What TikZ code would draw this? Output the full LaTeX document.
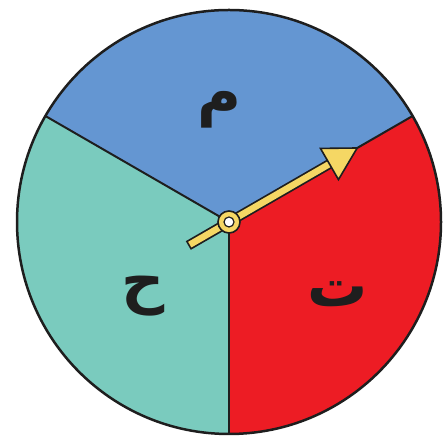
\documentclass[tikz,border=0pt]{standalone}
\usepackage{fontspec}
\usetikzlibrary{calc}
\TeXXeTstate=1
\newfontfamily\arabicfont[Script=Arabic]{DejaVu Sans}
\definecolor{secblue}{RGB}{100,150,210}
\definecolor{secteal}{RGB}{122,203,190}
\definecolor{secred}{RGB}{237,28,36}
\definecolor{pointer}{RGB}{245,215,100}
\definecolor{edge}{RGB}{30,30,30}
\tikzset{
  divider/.style={draw=edge, line width=2pt},
  rim/.style={draw=edge, line width=2.5pt},
  letter/.style={font=\arabicfont\bfseries\fontsize{60}{66}\selectfont, text=edge, inner sep=0pt},
}
\begin{document}
\begin{tikzpicture}[x=1pt,y=1pt]
\useasboundingbox (0,0) rectangle (442,443);
\coordinate (c) at (229,221);
\coordinate (pR) at ($(c)+(30:212)$);
\coordinate (pL) at ($(c)+(150:212)$);
\coordinate (pB) at ($(c)+(270:212)$);
\fill[secblue] (c) -- (pR) arc[start angle=30,end angle=150,radius=212] -- cycle;
\fill[secteal] (c) -- (pL) arc[start angle=150,end angle=270,radius=212] -- cycle;
\fill[secred] (c) -- (pB) arc[start angle=270,end angle=390,radius=212] -- cycle;
\draw[divider] (c) -- (pR);
\draw[divider] (c) -- (pL);
\draw[divider] (c) -- (pB);
\draw[rim] (c) circle (212);
\node[letter] (m) at (219,333) {\beginR م\endR};
\node[letter] (h) at (143,147) {\beginR ح\endR};
\node[letter] (t) at (338,149) {\beginR ت\endR};
% pointer
\coordinate (tail) at ($(c)+(210:47)$);
\coordinate (hb) at ($(c)+(30:116)$);
\coordinate (tip) at ($(c)+(30:148)$);
\coordinate (h1) at ($(hb)+(120:18)$);
\coordinate (h2) at ($(hb)+(-60:18)$);
\draw[edge, line width=10pt] (tail) -- (hb);
\draw[pointer, line width=6.5pt, shorten <=1.7pt] (tail) -- (hb);
\filldraw[fill=pointer, draw=edge, line width=1.6pt, line join=miter] (tip) -- (h1) -- (h2) -- cycle;
\filldraw[fill=pointer, draw=edge, line width=1.6pt] (c) circle (11);
\filldraw[fill=white, draw=edge, line width=1.2pt] (c) circle (5);
\end{tikzpicture}
\end{document}
